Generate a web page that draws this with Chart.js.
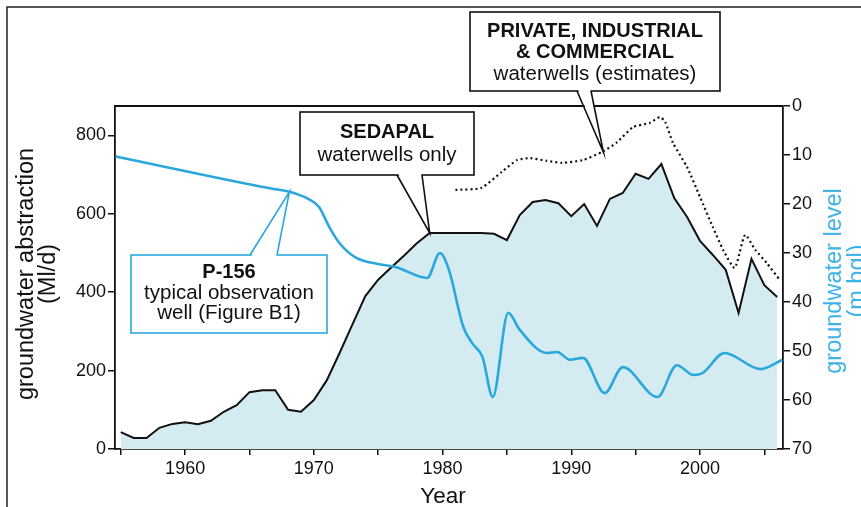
<!DOCTYPE html>
<html>
<head>
<meta charset="utf-8">
<script src="https://cdn.jsdelivr.net/npm/chart.js@4"></script>
<style>
html, body { margin: 0; padding: 0; background: #fff; }
</style>
</head>
<body>
<canvas id="chart" width="861" height="507"></canvas>
<script>
// SEDAPAL waterwells, groundwater abstraction (Ml/d), one value per year
const sedapalYears = [1955,1956,1957,1958,1959,1960,1961,1962,1963,1964,1965,1966,1967,1968,1969,1970,
    1971,1972,1973,1974,1975,1976,1977,1978,1979,1980,1981,1982,1983,1984,1985,1986,1987,1988,1989,1990,
    1991,1992,1993,1994,1995,1996,1997,1998,1999,2000,2001,2002,2003,2004,2005,2006];
const sedapal = [43,28,28,54,64,68,63,72,95,112,145,150,150,100,95,125,
    175,245,318,390,432,463,493,525,551,551,551,551,551,549,533,597,630,635,627,594,
    625,569,638,653,702,689,727,640,592,531,495,457,347,485,418,388];

// private, industrial & commercial waterwells (estimates), Ml/d
const privateYears = [1981,1983,1984.6,1985.8,1986.8,1988.1,1989.3,1990.9,1992.4,1993.5,1994.8,1996.1,
    1996.9,1997.3,1997.9,1999,2000,2001,2001.8,2002.7,2003.5,2004.3,2005.2,2006.2];
const privateWells = [661,666,707,737,742,735,730,737,758,781,821,832,
    847,834,781,719,643,566,508,462,546,508,474,431];

// P-156 observation well, groundwater level (m bgl)
const levelYears = [1954.6,1966.8,1968.1,1969.6,1970.4,1971.2,1972.0,1973.3,1974.9,1976.4,1978.8,1979.8,
    1980.5,1981.6,1982.3,1983.1,1983.9,1985.1,1986.0,1988.1,1988.9,1989.9,1990.9,1992.6,1994.0,1996.7,
    1998.2,1999.5,2000.2,2001.9,2004.7,2006.4];
const level = [10.3,16.9,17.5,19.0,20.6,24.7,28.0,31.0,32.2,32.9,35.1,30.0,
    33.5,45.0,48.4,51.2,59.4,42.2,45.7,50.4,50.2,51.8,51.4,58.6,53.3,59.4,
    52.9,54.9,54.5,50.4,53.7,51.8];

const leftTicks = [0, 200, 400, 600, 800];
const rightTicks = [0, 10, 20, 30, 40, 50, 60, 70];
const yearLabels = [1960, 1970, 1980, 1990, 2000];

const FONT = "'Liberation Sans', Arial, Helvetica, sans-serif";
const BLUE = '#2aa8dc';
const FILL = '#d5ebf2';

function pts(xs, ys) {
    return xs.map((x, i) => ({ x: x, y: ys[i] }));
}

// callout box with a pointer ending on a data point
function callout(ctx, box, baseA, baseB, apex, color, lines) {
    ctx.save();
    ctx.fillStyle = '#fff';
    ctx.fillRect(box.x, box.y, box.w, box.h);
    ctx.strokeStyle = color;
    ctx.lineWidth = 1.6;
    ctx.strokeRect(box.x, box.y, box.w, box.h);

    // white wedge, covers the box edge between the two base points
    const inset = baseA.y > box.y + 1 ? -2 : 2;
    ctx.beginPath();
    ctx.moveTo(baseA.x + 0.8, baseA.y + inset);
    ctx.lineTo(apex.x, apex.y);
    ctx.lineTo(baseB.x - 0.8, baseB.y + inset);
    ctx.closePath();
    ctx.fill();

    ctx.beginPath();
    ctx.moveTo(baseA.x, baseA.y);
    ctx.lineTo(apex.x, apex.y);
    ctx.lineTo(baseB.x, baseB.y);
    ctx.stroke();

    ctx.fillStyle = '#111';
    ctx.textAlign = 'center';
    ctx.textBaseline = 'middle';
    const cx = box.x + box.w / 2;
    lines.forEach(l => {
        ctx.font = (l.bold ? 'bold ' : '') + l.size + 'px ' + FONT;
        ctx.fillText(l.text, cx, l.y);
    });
    ctx.restore();
}

const decorations = {
    id: 'decorations',
    afterDraw(chart) {
        const ctx = chart.ctx;
        const area = chart.chartArea;
        const xs = chart.scales.x, ys = chart.scales.y, ys2 = chart.scales.y2;
        ctx.save();

        // outer frame of the figure (left and top)
        ctx.strokeStyle = '#222';
        ctx.lineWidth = 1.5;
        ctx.beginPath();
        ctx.moveTo(7, 507);
        ctx.lineTo(7, 7);
        ctx.lineTo(861, 7);
        ctx.stroke();

        // top border of plot
        ctx.strokeStyle = '#111';
        ctx.lineWidth = 1.8;
        ctx.beginPath();
        ctx.moveTo(area.left, area.top);
        ctx.lineTo(area.right, area.top);
        ctx.stroke();

        // axis titles
        ctx.fillStyle = '#111';
        ctx.textAlign = 'center';
        ctx.textBaseline = 'middle';
        ctx.font = '23.5px ' + FONT;
        ctx.save();
        ctx.translate(27, 274);
        ctx.rotate(-Math.PI / 2);
        ctx.fillText('groundwater abstraction', 0, 0);
        ctx.fillText('(Ml/d)', 0, 22);
        ctx.restore();

        ctx.save();
        ctx.fillStyle = '#3cb2e6';
        ctx.translate(835, 281);
        ctx.rotate(-Math.PI / 2);
        ctx.fillText('groundwater level', 0, 0);
        ctx.fillText('(m bgl)', 0, 23);
        ctx.restore();

        ctx.font = '22.5px ' + FONT;
        ctx.fillText('Year', 443, 497);
        ctx.restore();

        callout(ctx, { x: 470, y: 12, w: 250, h: 79 },
            { x: 577, y: 91 }, { x: 591, y: 91 },
            { x: xs.getPixelForValue(1992.5), y: ys.getPixelForValue(757) }, '#111', [
                { text: 'PRIVATE, INDUSTRIAL', bold: true, size: 20, y: 31 },
                { text: '& COMMERCIAL', bold: true, size: 20, y: 52 },
                { text: 'waterwells (estimates)', bold: false, size: 20.5, y: 74 }
            ]);

        callout(ctx, { x: 300, y: 112, w: 174, h: 63 },
            { x: 397, y: 175 }, { x: 422, y: 175 },
            { x: xs.getPixelForValue(1979), y: ys.getPixelForValue(551) }, '#111', [
                { text: 'SEDAPAL', bold: true, size: 20, y: 132 },
                { text: 'waterwells only', bold: false, size: 20.5, y: 155 }
            ]);

        callout(ctx, { x: 131, y: 255, w: 196, h: 78 },
            { x: 250, y: 255 }, { x: 277, y: 255 },
            { x: xs.getPixelForValue(1968.1), y: ys2.getPixelForValue(17.5) }, BLUE, [
                { text: 'P-156', bold: true, size: 20, y: 272 },
                { text: 'typical observation', bold: false, size: 20.5, y: 293 },
                { text: 'well (Figure B1)', bold: false, size: 20.5, y: 313 }
            ]);
    }
};

const axisCommon = {
    border: { display: true, color: '#111', width: 1.8 },
    grid: { drawOnChartArea: false, drawTicks: true, color: '#111', tickLength: 7, lineWidth: 1.5 },
};

new Chart(document.getElementById('chart'), {
    type: 'line',
    data: {
        datasets: [
            {
                label: 'P-156 groundwater level',
                data: pts(levelYears, level),
                yAxisID: 'y2',
                borderColor: BLUE,
                borderWidth: 2.6,
                pointRadius: 0,
                cubicInterpolationMode: 'monotone',
                fill: false
            },
            {
                label: 'Private, industrial & commercial',
                data: pts(privateYears, privateWells),
                yAxisID: 'y',
                borderColor: '#111',
                borderWidth: 2.2,
                borderDash: [2, 3],
                pointRadius: 0,
                tension: 0.2,
                fill: false
            },
            {
                label: 'SEDAPAL waterwells',
                data: pts(sedapalYears, sedapal),
                yAxisID: 'y',
                borderColor: '#111',
                borderWidth: 2,
                backgroundColor: FILL,
                pointRadius: 0,
                tension: 0,
                fill: 'origin'
            }
        ]
    },
    options: {
        responsive: false,
        animation: false,
        devicePixelRatio: 1,
        layout: { padding: { top: 106, left: 0, right: 0, bottom: 0 } },
        plugins: {
            legend: { display: false },
            tooltip: { enabled: false }
        },
        scales: {
            x: {
                type: 'linear',
                min: 1954.55,
                max: 2006.45,
                ...axisCommon,
                grid: { drawOnChartArea: false, drawTicks: true, color: '#111', tickLength: 6, lineWidth: 1.5 },
                ticks: {
                    stepSize: 5,
                    includeBounds: false,
                    autoSkip: false,
                    maxRotation: 0,
                    padding: 3,
                    color: '#111',
                    font: { family: FONT, size: 18 },
                    callback: (v) => yearLabels.includes(v) ? String(v) : ''
                },
                afterFit: (s) => { s.height = 58; }
            },
            y: {
                position: 'left',
                min: 0,
                max: 875,
                ...axisCommon,
                ticks: {
                    stepSize: 200,
                    includeBounds: false,
                    padding: 2,
                    color: '#111',
                    font: { family: FONT, size: 18 },
                    callback: (v) => leftTicks.includes(v) ? String(v) : ''
                },
                afterFit: (s) => { s.width = 115; }
            },
            y2: {
                position: 'right',
                reverse: true,
                min: 0,
                max: 70,
                ...axisCommon,
                ticks: {
                    stepSize: 10,
                    includeBounds: false,
                    padding: 2,
                    color: '#111',
                    font: { family: FONT, size: 18 },
                    callback: (v) => rightTicks.includes(v) ? String(v) : ''
                },
                afterFit: (s) => { s.width = 78; }
            }
        }
    },
    plugins: [decorations]
});
</script>
</body>
</html>
